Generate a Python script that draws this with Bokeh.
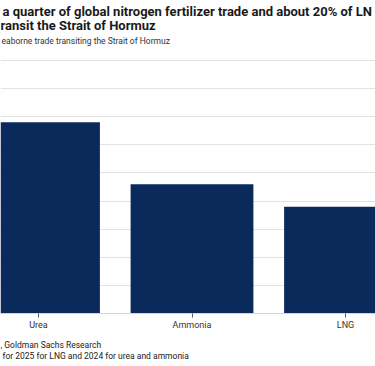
from bokeh.plotting import figure
from bokeh.models import Range1d, FixedTicker, Label
from bokeh.embed import file_html
from bokeh.resources import INLINE

# ---- data ----
categories = ["Urea", "Ammonia", "LNG"]
shares = [34, 23, 19]          # % of seaborne trade transiting the Strait of Hormuz
y_ticks = [0, 5, 10, 15, 20, 25, 30, 35, 40, 45]

title_lines = [
    "a quarter of global nitrogen fertilizer trade and about 20% of LN",
    "ransit the Strait of Hormuz",
]
subtitle = "eaborne trade transiting the Strait of Hormuz"
footer_lines = [
    ", Goldman Sachs Research",
    "for 2025 for LNG and 2024 for urea and ammonia",
]

W, H = 375, 366
PLOT_TOP, BASELINE = 60, 313           # pixel rows of the 45% and 0% lines
FONT = "Roboto"
ymax = y_ticks[-1]
ppu = (BASELINE - PLOT_TOP) / ymax      # pixels per percentage point

p = figure(
    width=W, height=H, output_backend="svg", toolbar_location=None,
    x_range=Range1d(-0.2476, 2.1954),
    y_range=Range1d(-(H - BASELINE) / ppu, BASELINE / ppu),
    y_axis_location=None,
    min_border=0,
    styles={"position": "absolute", "left": "0px", "top": "0px"},
)
p.outline_line_color = None
p.background_fill_color = "white"
p.border_fill_color = "white"

p.xgrid.visible = False
p.ygrid.ticker = FixedTicker(ticks=y_ticks)
p.ygrid.grid_line_color = "#e2e2e2"
p.ygrid.grid_line_width = 1

xs = list(range(len(categories)))
p.vbar(x=xs, top=shares, width=0.8, fill_color="#0b2a5c", line_color=None)

ax = p.xaxis[0]
ax.fixed_location = 0
ax.ticker = FixedTicker(ticks=xs)
ax.major_label_overrides = {i: c for i, c in zip(xs, categories)}
ax.axis_line_color = "#d4d4d4"
ax.major_tick_line_color = "#555555"
ax.major_tick_in = 0
ax.major_tick_out = 4
ax.minor_tick_line_color = None
ax.major_label_standoff = 2
ax.major_label_text_font = FONT
ax.major_label_text_font_size = "9px"
ax.major_label_text_color = "#333333"


def add_text(txt, px, py, size, bold=False, color="#222222"):
    p.add_layout(Label(
        x=px, y=H - py, x_units="screen", y_units="screen",
        text=txt, text_font=FONT, text_font_size=size,
        text_font_style="bold" if bold else "normal",
        text_color=color, text_baseline="alphabetic", text_align="left",
    ))


add_text(title_lines[0], 2, 11, "13px", bold=True, color="#1a1a1a")
add_text(title_lines[1], 0, 25, "13px", bold=True, color="#1a1a1a")
add_text(subtitle, 1, 40, "8.5px", color="#333333")
add_text(footer_lines[0], 0, 344, "8.5px", color="#222222")
add_text(footer_lines[1], 2, 355, "8.5px", color="#222222")

open("out.html", "w").write(file_html(p, INLINE))
